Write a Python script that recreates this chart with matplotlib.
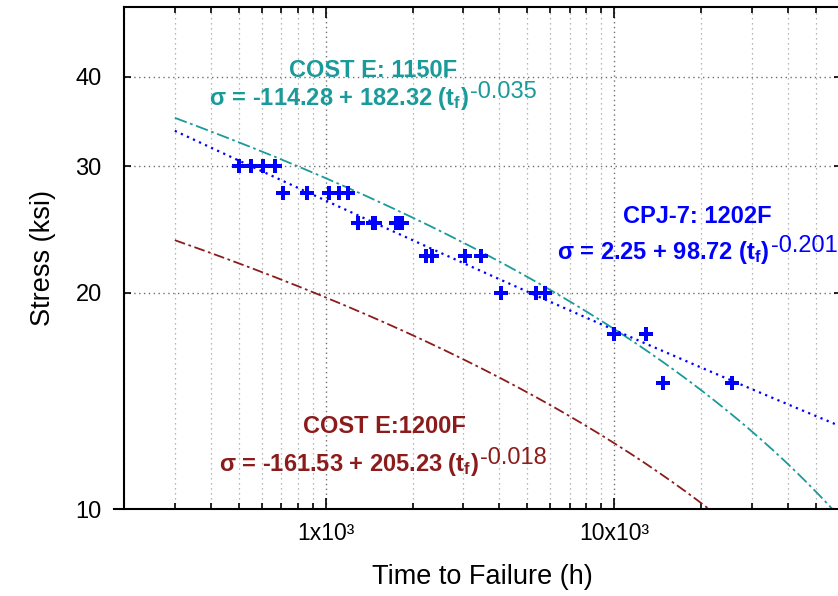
import numpy as np
import matplotlib
matplotlib.use('Agg')
from matplotlib import pyplot as plt
from matplotlib.ticker import FixedLocator, FixedFormatter, NullFormatter

# 破断データ (CPJ-7, 1202F)
t_fail = [500, 550, 605, 665,
          710, 860, 1025, 1110, 1190,
          1290, 1460, 1480, 1750, 1800, 1840,
          2220, 2330, 3030, 3440,
          4060, 5370, 5770,
          10000, 12900,
          14800, 25500]
stress = [30, 30, 30, 30,
          27.5, 27.5, 27.5, 27.5, 27.5,
          25, 25, 25, 25, 25, 25,
          22.5, 22.5, 22.5, 22.5,
          20, 20, 20,
          17.5, 17.5,
          15, 15]

# 近似式 sigma = a + b * t^n
fit_names = ['COST E: 1150F', 'CPJ-7: 1202F', 'COST E:1200F']
fit_a = [-114.28, 2.25, -161.53]
fit_b = [182.32, 98.72, 205.23]
fit_n = [-0.035, -0.201, -0.018]
fit_colors = ['#1a9a9a', '#0000ff', '#8c1c1c']

x_ticks = [1000, 10000]
x_ticklabels = ['1x10³', '10x10³']
y_ticks = [10, 20, 30, 40]

plt.rcParams['font.family'] = ['Liberation Sans', 'DejaVu Sans']
plt.rcParams['mathtext.fontset'] = 'custom'
plt.rcParams['mathtext.rm'] = 'Liberation Sans'
plt.rcParams['mathtext.bf'] = 'Liberation Sans:bold'
plt.rcParams['mathtext.default'] = 'bf'


def main():
    fig = plt.figure(figsize=(8.38, 5.96), dpi=100)
    ax = fig.add_axes([124 / 838, 87 / 596, 717 / 838, 502 / 596])
    ax.set_xscale('log')
    ax.set_yscale('log')
    ax.set_xlim(200, 61000)
    ax.set_ylim(10, 50)

    # グリッド
    ax.xaxis.set_minor_locator(FixedLocator(
        [k * 10 ** e for e in (2, 3, 4) for k in range(2, 10) if 200 <= k * 10 ** e <= 61000]))
    ax.xaxis.set_major_locator(FixedLocator(x_ticks))
    ax.xaxis.set_major_formatter(FixedFormatter(x_ticklabels))
    ax.xaxis.set_minor_formatter(NullFormatter())
    ax.yaxis.set_major_locator(FixedLocator(y_ticks))
    ax.yaxis.set_major_formatter(FixedFormatter([str(v) for v in y_ticks]))
    ax.yaxis.set_minor_locator(FixedLocator([]))
    ax.grid(True, axis='x', which='minor', color='#a0a0a0', linestyle=(0, (1, 3)), linewidth=0.9)
    ax.grid(True, axis='x', which='major', color='#707070', linestyle=(0, (1, 2.5)), linewidth=1.0)
    ax.grid(True, axis='y', which='major', color='#707070', linestyle=(0, (1, 2.5)), linewidth=1.0)

    ax.tick_params(which='both', direction='in', top=True, right=True, width=1.2, colors='black')
    ax.tick_params(axis='x', which='major', length=8, pad=9, labelsize=16.5)
    ax.tick_params(axis='x', which='minor', length=4.5)
    ax.tick_params(axis='y', which='major', length=5, pad=16, labelsize=17)
    for s in ax.spines.values():
        s.set_linewidth(1.5)
    ax.spines['bottom'].set_bounds(185, 61000)

    # 近似曲線
    tt = np.logspace(np.log10(300), np.log10(61000), 300)
    styles = [(0, (7, 2, 1.5, 2)), (0, (1, 2)), (0, (6, 2, 1.5, 2))]
    widths = [1.3, 1.6, 1.3]
    for a, b, n, c, ls, lw in zip(fit_a, fit_b, fit_n, fit_colors, styles, widths):
        ax.plot(tt, a + b * tt ** n, color=c, linestyle=ls, linewidth=lw)

    ax.plot(t_fail, stress, 'P', color='#0000ff', markersize=10, markeredgewidth=0)

    # 注釈
    title_pos = [(1454, 40.0), (19360, 25.0), (1600, 12.76)]
    eq_pos = [(394, 36.5), (6350, 22.3), (426, 11.3)]
    for i in range(3):
        ax.text(title_pos[i][0], title_pos[i][1], fit_names[i], color=fit_colors[i],
                fontsize=17, fontweight='bold', ha='center', va='baseline')
        a_txt = '%.2f' % fit_a[i]
        eq = 'σ = %s + %.2f (t$_f$)' % (a_txt, fit_b[i])
        t1 = ax.text(eq_pos[i][0], eq_pos[i][1], eq, color=fit_colors[i],
                     fontsize=17, fontweight='bold', ha='left', va='baseline')
        ax.annotate('%g' % fit_n[i], xy=(1, 1), xycoords=t1, xytext=(1, 3),
                    textcoords='offset points', color=fit_colors[i], fontsize=17,
                    ha='left', va='top', annotation_clip=False)

    ax.set_xlabel('Time to Failure (h)', fontsize=19.5, labelpad=14)
    ax.set_ylabel('Stress (ksi)', fontsize=19.5, labelpad=14)

    fig.savefig('out.png', dpi=100)


if __name__ == "__main__":
    main()
